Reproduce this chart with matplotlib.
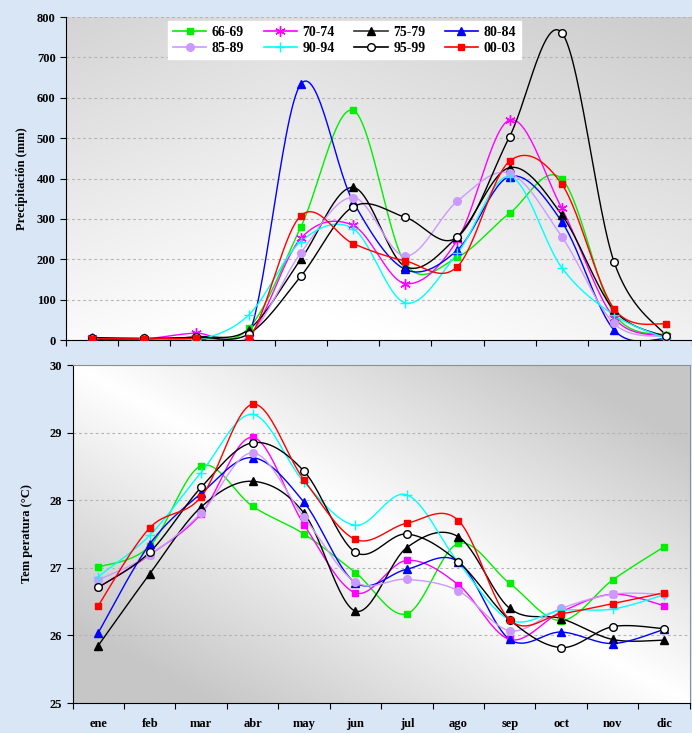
import matplotlib

matplotlib.use("Agg")

import matplotlib.pyplot as plt
import numpy as np

months = ["ene", "feb", "mar", "abr", "may", "jun", "jul", "ago", "sep", "oct", "nov", "dic"]
periods = ["66-69", "70-74", "75-79", "80-84", "85-89", "90-94", "95-99", "00-03"]

# precipitacion (mm)
prec_66_69 = [3, 3, 4, 29, 280, 569, 190, 205, 314, 399, 66, 12]
prec_70_74 = [4, 3, 17, 8, 252, 284, 140, 248, 545, 326, 55, 10]
prec_75_79 = [5, 3, 8, 26, 200, 378, 182, 256, 427, 310, 74, 8]
prec_80_84 = [2, 2, 6, 10, 634, 343, 175, 223, 405, 293, 25, 3]
prec_85_89 = [5, 3, 5, 10, 216, 353, 208, 344, 413, 256, 41, 8]
prec_90_94 = [6, 5, 0, 62, 244, 276, 92, 215, 405, 179, 62, 4]
prec_95_99 = [6, 4, 7, 15, 158, 330, 304, 255, 504, 761, 194, 10]
prec_00_03 = [3, 3, 4, 4, 308, 239, 196, 182, 443, 386, 78, 39]

# temperatura (C)
temp_66_69 = [27.01, 27.32, 28.51, 27.91, 27.50, 26.93, 26.32, 27.36, 26.77, 26.22, 26.82, 27.31]
temp_70_74 = [26.71, 27.19, 27.80, 28.93, 27.64, 26.63, 27.11, 26.75, 25.94, 26.35, 26.61, 26.44]
temp_75_79 = [25.85, 26.91, 27.90, 28.28, 27.81, 26.36, 27.30, 27.46, 26.40, 26.25, 25.94, 25.93]
temp_80_84 = [26.04, 27.35, 28.10, 28.63, 27.97, 26.78, 26.98, 27.09, 25.94, 26.05, 25.88, 26.09]
temp_85_89 = [26.82, 27.19, 27.81, 28.70, 27.75, 26.79, 26.83, 26.66, 26.07, 26.40, 26.61, 26.61]
temp_90_94 = [26.87, 27.48, 28.41, 29.27, 28.27, 27.63, 28.08, 27.08, 26.23, 26.37, 26.39, 26.60]
temp_95_99 = [26.71, 27.23, 28.19, 28.85, 28.43, 27.23, 27.50, 27.09, 26.23, 25.82, 26.13, 26.10]
temp_00_03 = [26.44, 27.59, 28.05, 29.42, 28.30, 27.42, 27.66, 27.70, 26.23, 26.32, 26.47, 26.63]

prec = [prec_66_69, prec_70_74, prec_75_79, prec_80_84, prec_85_89, prec_90_94, prec_95_99, prec_00_03]
temp = [temp_66_69, temp_70_74, temp_75_79, temp_80_84, temp_85_89, temp_90_94, temp_95_99, temp_00_03]

colors = ["#00ee00", "#ff00ff", "#000000", "#0000ff", "#cc99ff", "#00ffff", "#000000", "#ff0000"]
markers_top = ["s", (6, 2, 0), "^", "^", "o", "+", "o", "s"]
markers_bot = ["s", "s", "^", "^", "o", "+", "o", "s"]

SERIF = ["Liberation Serif", "DejaVu Serif"]


def smooth(y, n=30):
    # excel-like bezier smoothing through the points
    y = np.asarray(y, dtype=float)
    x = np.arange(len(y), dtype=float)
    pts = np.column_stack([x, y])
    ext = np.vstack([pts[0], pts, pts[-1]])
    t = np.linspace(0, 1, n)[:, None]
    out = []
    for i in range(len(pts) - 1):
        p0, p3 = ext[i + 1], ext[i + 2]
        c1 = p0 + (ext[i + 2] - ext[i]) / 6.0
        c2 = p3 - (ext[i + 3] - ext[i + 1]) / 6.0
        seg = (1 - t) ** 3 * p0 + 3 * (1 - t) ** 2 * t * c1 + 3 * (1 - t) * t ** 2 * c2 + t ** 3 * p3
        out.append(seg if i == 0 else seg[1:])
    seg = np.vstack(out)
    return seg[:, 0], seg[:, 1]


def gradient_bg(ax, kind):
    yy, xx = np.mgrid[0:1:200j, 0:1:200j]
    if kind == "top":
        g = 0.80 + 0.20 * np.clip(0.75 * yy + 0.35 * (1 - np.abs(xx - 0.35) * 1.6), 0, 1)
    else:
        d = np.abs(xx - yy)
        g = 1.0 - 0.22 * np.clip(d * 1.3, 0, 1)
    g = np.clip(g, 0, 1)
    img = np.dstack([g, g, g])
    ax.imshow(img, extent=[0, 1, 0, 1], transform=ax.transAxes, aspect="auto",
              origin="upper", zorder=0)


def marker_size(m):
    if m == "s":
        return 4.5
    if m in ("^", "o"):
        return 5.5
    return 7.5


def draw(ax, data, markers, lw=1.0):
    x = np.arange(len(months))
    for vals, c, m, lab in zip(data, colors, markers, periods):
        sx, sy = smooth(vals)
        ax.plot(sx, sy, color=c, lw=lw, zorder=3)
        open_marker = lab == "95-99"
        ax.plot(x, vals, ls="none", marker=m, ms=marker_size(m), color=c,
                mfc="white" if open_marker else c, mec=c, mew=1.0, zorder=4)


fig = plt.figure(figsize=(6.92, 7.33), dpi=100)
fig.patch.set_facecolor("#d8e6f5")

ax1 = fig.add_axes([0.0954, 0.5361, 0.905, 0.4407])
ax2 = fig.add_axes([0.1048, 0.0409, 0.892, 0.4611])

for ax, kind in ((ax1, "top"), (ax2, "bot")):
    gradient_bg(ax, kind)

draw(ax1, prec, markers_top)
draw(ax2, temp, markers_bot)

ax1.set_ylim(0, 800)
ax1.set_yticks(np.arange(0, 801, 100))
ax2.set_ylim(25, 30)
ax2.set_yticks(np.arange(25, 31, 1))

for ax in (ax1, ax2):
    ax.set_xlim(-0.5, 11.5)
    ax.set_xticks(np.arange(-0.5, 12, 1), minor=False)
    ax.set_xticklabels([])
    ax.tick_params(axis="x", which="major", length=4, direction="out", color="black")
    ax.tick_params(axis="y", length=4, direction="out", labelsize=9)
    for lbl in ax.get_yticklabels():
        lbl.set_fontfamily(SERIF)
        lbl.set_fontweight("bold")
    ax.yaxis.grid(True, ls=(0, (2.5, 2.5)), color="#b4b4b4", lw=0.8)
    for g in ax.get_ygridlines():
        g.set_zorder(1)
    ax.spines["left"].set_color("black")
    ax.spines["bottom"].set_color("black")

ax1.spines["top"].set_visible(False)
ax1.spines["right"].set_visible(False)
ax2.spines["top"].set_color("#909090")
ax2.spines["right"].set_color("#909090")

ax2.set_xticks(np.arange(12), minor=True)
ax2.set_xticklabels(months, minor=True, fontsize=9, fontweight="bold", family=SERIF)
ax2.tick_params(axis="x", which="minor", length=0, pad=11)

ax1.set_ylabel("Precipitación (mm)", fontsize=9, fontweight="bold", family=SERIF)
ax1.yaxis.set_label_coords(-0.061, 0.5)
ax2.set_ylabel("Tem peratura (°C)", fontsize=9, fontweight="bold", family=SERIF)
ax2.yaxis.set_label_coords(-0.064, 0.5)

handles = []
for c, m, lab in zip(colors, markers_top, periods):
    h, = ax1.plot([], [], color=c if lab != "75-79" else "#333333", lw=1.2, marker=m,
                  ms=marker_size(m), mfc="white" if lab == "95-99" else c, mec=c, label=lab)
    handles.append(h)

# legend fills column-wise, so interleave to get the two rows
order = [0, 4, 1, 5, 2, 6, 3, 7]
leg = ax1.legend(handles=[handles[i] for i in order], ncol=4, loc="upper left",
                 bbox_to_anchor=(0.152, 1.01),
                 frameon=True, fancybox=False, framealpha=1.0, edgecolor="white",
                 prop={"family": SERIF, "weight": "bold", "size": 10},
                 handlelength=2.4, columnspacing=1.4, handletextpad=0.4,
                 borderpad=0.35, labelspacing=0.22)
leg.set_zorder(10)

fig.savefig("out.png", dpi=100, facecolor=fig.get_facecolor())
